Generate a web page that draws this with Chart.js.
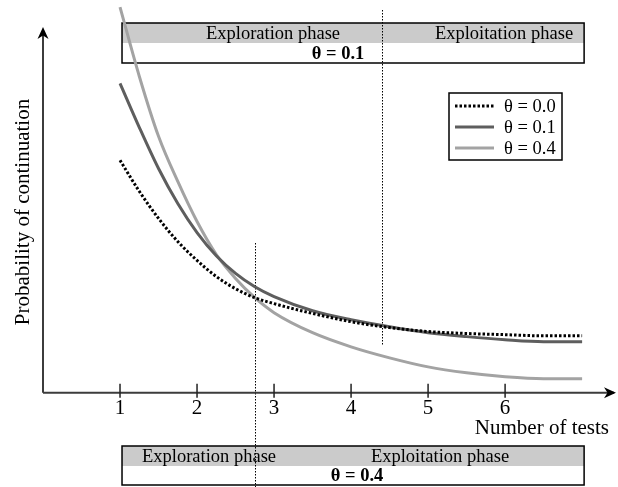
<!DOCTYPE html>
<html>
<head>
<meta charset="utf-8">
<script src="https://cdn.jsdelivr.net/npm/chart.js@4.4.0/dist/chart.umd.min.js"></script>
<style>
  html, body { margin: 0; padding: 0; background: #fff; }
</style>
</head>
<body>
<canvas id="chart" width="618" height="487"></canvas>
<script>
// Schematic: probability of continuation vs number of tests, for three theta values.
// y has no unit on the original figure, values are read as % of the axis height.

const TESTS = [1, 1.25, 1.5, 1.75, 2, 2.25, 2.5, 2.75, 3, 3.5, 4, 4.5, 5, 5.5, 6, 6.5, 7];
const X_TICKS = [1, 2, 3, 4, 5, 6];

const P_THETA_00 = [59.2, 51.3, 44.4, 38.5, 33.7, 29.6, 26.5, 24.2, 22.7, 20.2, 18.1, 16.6, 15.6, 15.1, 14.8, 14.5, 14.5];
const P_THETA_01 = [78.8, 67.6, 57.1, 48.2, 40.8, 34.9, 30.4, 27.0, 24.5, 20.9, 18.6, 16.8, 15.3, 14.3, 13.5, 13.0, 13.0];
const P_THETA_04 = [98.2, 80.6, 65.3, 53.8, 43.6, 35.2, 29.1, 24.2, 20.4, 15.3, 11.7, 8.9, 6.6, 5.1, 4.1, 3.6, 3.6];

const SERIES_LABELS = ["θ = 0.0", "θ = 0.1", "θ = 0.4"];
const PHASES = ["Exploration phase", "Exploitation phase"];
const SWITCH_THETA_01 = 4.4;   // end of exploration for theta = 0.1
const SWITCH_THETA_04 = 2.75;  // end of exploration for theta = 0.4

const SERIF = "'Liberation Serif', 'Times New Roman', serif";
const AXIS_COLOR = "#3c3c3c";
const BAND_COLOR = "#cbcbcb";

function toPoints(ys) {
  return TESTS.map((x, i) => ({ x: x, y: ys[i] }));
}

function dottedV(c, x, y1, y2) {
  c.save();
  c.strokeStyle = "#000";
  c.lineWidth = 1;
  c.setLineDash([1.5, 1.5]);
  c.beginPath();
  c.moveTo(Math.round(x) + 0.5, y1);
  c.lineTo(Math.round(x) + 0.5, y2);
  c.stroke();
  c.restore();
}

function phaseBox(c, left, right, top, band, bottom, texts, theta) {
  c.save();
  c.fillStyle = BAND_COLOR;
  c.fillRect(left, top, right - left, band - top);
  c.strokeStyle = "#000";
  c.lineWidth = 1.5;
  c.strokeRect(left, top, right - left, bottom - top);
  c.fillStyle = "#000";
  c.textBaseline = "middle";
  c.textAlign = "center";
  c.font = "18.5px " + SERIF;
  texts.forEach((t) => c.fillText(t[0], t[1], (top + band) / 2 + 1));
  c.font = "bold 18.5px " + SERIF;
  c.fillText(theta[0], theta[1], (band + bottom) / 2 + 1);
  c.restore();
}

function arrowHead(c, tipX, tipY, dx, dy) {
  // dx,dy: unit direction of the arrow
  const len = 12, half = 5.5, notch = 3.5;
  const px = -dy, py = dx;
  c.beginPath();
  c.moveTo(tipX, tipY);
  c.lineTo(tipX - dx * len + px * half, tipY - dy * len + py * half);
  c.lineTo(tipX - dx * (len - notch), tipY - dy * (len - notch));
  c.lineTo(tipX - dx * len - px * half, tipY - dy * len - py * half);
  c.closePath();
  c.fill();
}

const figurePlugin = {
  id: "figure",
  beforeDatasetsDraw(chart) {
    const c = chart.ctx;
    const xs = chart.scales.x;
    const left = xs.getPixelForValue(1) + 2;
    const right = xs.getPixelForValue(7) + 2;

    phaseBox(c, left, right, 23, 43, 63,
      [[PHASES[0], 273], [PHASES[1], 504]], ["θ = 0.1", 338]);
    phaseBox(c, left, right, 446, 466, 485,
      [[PHASES[0], 209], [PHASES[1], 440]], ["θ = 0.4", 357]);

    dottedV(c, xs.getPixelForValue(SWITCH_THETA_01), 10, 345);
    dottedV(c, xs.getPixelForValue(SWITCH_THETA_04), 243, 487);
  },
  afterDraw(chart) {
    const c = chart.ctx;
    const a = chart.chartArea;
    const xs = chart.scales.x;
    const x0 = xs.getPixelForValue(0);
    const yb = a.bottom;

    c.save();
    c.strokeStyle = AXIS_COLOR;
    c.lineWidth = 2;
    c.beginPath();
    c.moveTo(x0, yb);
    c.lineTo(614, yb);
    c.moveTo(x0, yb);
    c.lineTo(x0, 30);
    c.stroke();
    c.fillStyle = "#000";
    arrowHead(c, 616, yb, 1, 0);
    arrowHead(c, x0, 27, 0, -1);

    c.strokeStyle = "#222";
    c.lineWidth = 1.5;
    X_TICKS.forEach((v) => {
      const px = xs.getPixelForValue(v);
      c.beginPath();
      c.moveTo(px, yb - 9);
      c.lineTo(px, yb + 5);
      c.stroke();
    });

    c.fillStyle = "#000";
    c.font = "21px " + SERIF;
    c.textAlign = "right";
    c.textBaseline = "middle";
    c.fillText("Number of tests", 609, 428);

    c.save();
    c.translate(23, 212);
    c.rotate(-Math.PI / 2);
    c.textAlign = "center";
    c.fillText("Probability of continuation", 0, 0);
    c.restore();

    // legend
    const lx = 449, ly = 93, lw = 113, lh = 67;
    c.fillStyle = "#fff";
    c.fillRect(lx, ly, lw, lh);
    c.strokeStyle = "#000";
    c.lineWidth = 1.5;
    c.strokeRect(lx, ly, lw, lh);
    const rows = [106, 127, 148];
    chart.data.datasets.forEach((ds, i) => {
      c.save();
      c.strokeStyle = ds.borderColor;
      c.lineWidth = ds.borderWidth;
      c.setLineDash(ds.borderDash || []);
      c.beginPath();
      c.moveTo(455, rows[i]);
      c.lineTo(494, rows[i]);
      c.stroke();
      c.restore();
      c.fillStyle = "#000";
      c.font = "18.5px " + SERIF;
      c.textAlign = "left";
      c.textBaseline = "middle";
      c.fillText(ds.label, 504, rows[i] + 1);
    });
    c.restore();
  }
};

new Chart(document.getElementById("chart"), {
  type: "line",
  data: {
    datasets: [
      {
        label: SERIES_LABELS[0],
        data: toPoints(P_THETA_00),
        borderColor: "#000",
        borderWidth: 3,
        borderDash: [2.5, 2],
      },
      {
        label: SERIES_LABELS[1],
        data: toPoints(P_THETA_01),
        borderColor: "#5e5e5e",
        borderWidth: 3,
      },
      {
        label: SERIES_LABELS[2],
        data: toPoints(P_THETA_04),
        borderColor: "#a3a3a3",
        borderWidth: 3,
      },
    ],
  },
  options: {
    responsive: false,
    animation: false,
    devicePixelRatio: 1,
    layout: { padding: { left: 43, right: 2, top: 0, bottom: 63 } },
    elements: {
      point: { radius: 0 },
      line: { cubicInterpolationMode: "monotone", fill: false },
    },
    plugins: {
      legend: { display: false },
      tooltip: { enabled: false },
    },
    scales: {
      x: {
        type: "linear",
        min: 0,
        max: 7.44,
        grid: { display: false, drawTicks: false },
        border: { display: false },
        afterBuildTicks: (scale) => {
          scale.ticks = X_TICKS.map((v) => ({ value: v }));
        },
        ticks: {
          padding: 3,
          color: "#000",
          font: { family: SERIF, size: 21 },
          maxRotation: 0,
          autoSkip: false,
        },
      },
      y: {
        display: false,
        min: 0,
        max: 100,
      },
    },
  },
  plugins: [figurePlugin],
});
</script>
</body>
</html>
